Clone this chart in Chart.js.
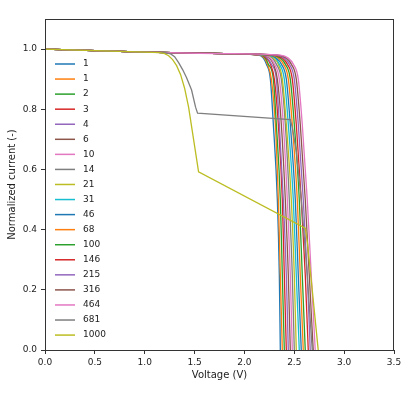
<!DOCTYPE html>
<html>
<head>
<meta charset="utf-8">
<script src="https://cdn.jsdelivr.net/npm/chart.js@4.4.0/dist/chart.umd.min.js"></script>
<style>
  body { margin: 0; background: #fff; }
  #wrap { width: 412px; height: 410px; }
</style>
</head>
<body>
<div id="wrap"><canvas id="myChart" width="412" height="410"></canvas></div>
<script>
// legend labels (concentration)
var labels = ["1", "1", "2", "3", "4", "6", "10", "14", "21", "31", "46", "68", "100", "146", "215", "316", "464", "681", "1000"];
var colors = ["#1f77b4", "#ff7f0e", "#2ca02c", "#d62728", "#9467bd", "#8c564b", "#e377c2", "#7f7f7f", "#bcbd22", "#17becf"];

// flat start, shared by the regular curves
var startV = [0.0, 1.0, 1.8];
var startI = [1.0, 0.99, 0.985];

// current levels in the knee, and voltage read at each level per curve
var kneeI = [0.98, 0.97, 0.95, 0.9, 0.75, 0.5, 0.25, 0.0];
var kneeV = [
	[2.14, 2.19, 2.22, 2.26, 2.29, 2.33, 2.35, 2.36],
	[2.15, 2.20, 2.23, 2.27, 2.31, 2.34, 2.36, 2.38],
	[2.16, 2.21, 2.24, 2.29, 2.32, 2.36, 2.38, 2.40],
	[2.17, 2.22, 2.26, 2.30, 2.34, 2.38, 2.40, 2.42],
	[2.18, 2.23, 2.27, 2.32, 2.35, 2.39, 2.42, 2.44],
	[2.19, 2.25, 2.29, 2.33, 2.37, 2.41, 2.44, 2.46],
	[2.20, 2.26, 2.30, 2.35, 2.39, 2.43, 2.46, 2.48],
	[2.22, 2.28, 2.32, 2.37, 2.41, 2.45, 2.48, 2.50],
	[2.23, 2.29, 2.34, 2.38, 2.42, 2.47, 2.50, 2.52],
	[2.24, 2.31, 2.35, 2.40, 2.44, 2.49, 2.52, 2.55],
	[2.25, 2.32, 2.37, 2.42, 2.46, 2.51, 2.54, 2.57],
	[2.27, 2.34, 2.39, 2.44, 2.48, 2.53, 2.56, 2.59],
	[2.28, 2.36, 2.41, 2.46, 2.50, 2.55, 2.58, 2.61],
	[2.30, 2.38, 2.43, 2.48, 2.52, 2.57, 2.61, 2.64],
	[2.32, 2.40, 2.45, 2.50, 2.54, 2.59, 2.63, 2.66],
	[2.34, 2.42, 2.47, 2.52, 2.56, 2.61, 2.65, 2.69],
	[2.36, 2.44, 2.49, 2.54, 2.58, 2.63, 2.67, 2.71]
];

// the two curves with a step (drawn with straight segments)
var v681 = [0.0, 1.0, 1.20, 1.26, 1.30, 1.34, 1.38, 1.42, 1.47, 1.51, 1.53, 2.46, 2.48, 2.52, 2.57, 2.63, 2.68];
var i681 = [1.0, 0.99, 0.988, 0.984, 0.975, 0.955, 0.932, 0.905, 0.864, 0.807, 0.787, 0.766, 0.74, 0.66, 0.50, 0.25, 0.0];
var v1000 = [0.0, 1.0, 1.15, 1.20, 1.24, 1.28, 1.32, 1.36, 1.40, 1.44, 1.49, 1.54, 2.61, 2.63, 2.68, 2.74];
var i1000 = [1.0, 0.99, 0.988, 0.985, 0.978, 0.965, 0.945, 0.915, 0.87, 0.807, 0.70, 0.592, 0.405, 0.36, 0.20, 0.0];

var xTicks = [0.0, 0.5, 1.0, 1.5, 2.0, 2.5, 3.0, 3.5];
var yTicks = [0.0, 0.2, 0.4, 0.6, 0.8, 1.0];

function toPoints(vs, is) {
	return vs.map(function(v, k) { return { x: v, y: is[k] }; });
}

var curves = kneeV.map(function(row) {
	return toPoints(startV.concat(row), startI.concat(kneeI));
});
curves.push(toPoints(v681, i681));
curves.push(toPoints(v1000, i1000));

var datasets = curves.map(function(pts, i) {
	var stepped = i >= kneeV.length;
	return {
		label: labels[i],
		data: pts,
		borderColor: colors[i % colors.length],
		borderWidth: 1.3,
		pointRadius: 0,
		fill: false,
		cubicInterpolationMode: stepped ? "default" : "monotone",
		tension: 0,
		order: labels.length - i
	};
});

var txt = "#222";

// axes box and legend drawn inside the plot
var frameAndLegend = {
	id: "frameAndLegend",
	afterDatasetsDraw: function(chart) {
		var ctx = chart.ctx, a = chart.chartArea;
		ctx.save();
		ctx.strokeStyle = "#333";
		ctx.lineWidth = 1;
		ctx.strokeRect(a.left + 0.5, a.top + 0.5, a.right - a.left - 1, a.bottom - a.top);
		ctx.font = "9px 'DejaVu Sans'";
		ctx.textBaseline = "middle";
		ctx.fillStyle = txt;
		chart.data.datasets.forEach(function(ds, i) {
			var y = a.top + 45 + i * 15.06;
			ctx.strokeStyle = ds.borderColor;
			ctx.lineWidth = 1.5;
			ctx.beginPath();
			ctx.moveTo(a.left + 10, y);
			ctx.lineTo(a.left + 30, y);
			ctx.stroke();
			ctx.fillText(ds.label, a.left + 38, y);
		});
		ctx.restore();
	}
};

new Chart("myChart", {
	type: "line",
	data: { datasets: datasets },
	plugins: [frameAndLegend],
	options: {
		responsive: false,
		animation: false,
		layout: { padding: { left: 0, right: 18, top: 19, bottom: 20 } },
		plugins: { legend: { display: false }, tooltip: { enabled: false } },
		scales: {
			x: {
				type: "linear",
				min: 0,
				max: 3.5,
				afterFit: function(s) { s.height = 40; },
				afterBuildTicks: function(s) { s.ticks = xTicks.map(function(v) { return { value: v }; }); },
				ticks: {
					color: txt,
					padding: 3,
					maxRotation: 0,
					font: { family: "DejaVu Sans", size: 9 },
					callback: function(v) { return v.toFixed(1); }
				},
				grid: { drawOnChartArea: false, drawTicks: true, tickLength: 4, tickColor: "#333" },
				border: { display: true, color: "#333" },
				title: {
					display: true,
					text: "Voltage (V)",
					color: txt,
					font: { family: "DejaVu Sans", size: 10 },
					padding: { top: 0, bottom: 9 }
				}
			},
			y: {
				type: "linear",
				min: 0,
				max: 1.1,
				afterFit: function(s) { s.width = 45; },
				afterBuildTicks: function(s) { s.ticks = yTicks.map(function(v) { return { value: v }; }); },
				ticks: {
					color: txt,
					padding: 4,
					font: { family: "DejaVu Sans", size: 9 },
					callback: function(v) { return v.toFixed(1); }
				},
				grid: { drawOnChartArea: false, drawTicks: true, tickLength: 4, tickColor: "#333" },
				border: { display: true, color: "#333" },
				title: {
					display: true,
					text: "Normalized current (-)",
					color: txt,
					font: { family: "DejaVu Sans", size: 10 },
					padding: { top: 6, bottom: 0 }
				}
			}
		}
	}
});
</script>
</body>
</html>
